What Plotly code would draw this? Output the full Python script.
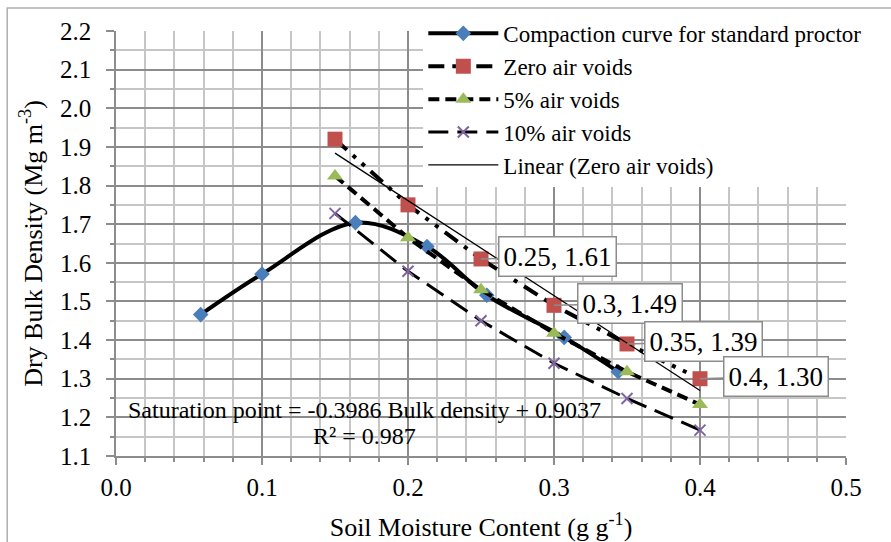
import numpy as np
import plotly.graph_objects as go

# ---- data ----
cc_x = [0.058, 0.100, 0.164, 0.213, 0.254, 0.307, 0.344]
cc_y = [1.466, 1.571, 1.704, 1.642, 1.516, 1.407, 1.318]

moist = [0.15, 0.20, 0.25, 0.30, 0.35, 0.40]
zav_y = [1.92, 1.75, 1.61, 1.49, 1.39, 1.30]
av5_y = [1.825, 1.665, 1.53, 1.418, 1.318, 1.233]
av10_y = [1.728, 1.578, 1.450, 1.340, 1.249, 1.167]

x_ticks = [0.0, 0.1, 0.2, 0.3, 0.4, 0.5]
y_ticks = [1.1, 1.2, 1.3, 1.4, 1.5, 1.6, 1.7, 1.8, 1.9, 2.0, 2.1, 2.2]

labelled_idx = [2, 3, 4, 5]
eq_line1 = "Saturation point = -0.3986 Bulk density + 0.9037"
eq_line2 = "R² = 0.987"

# linear trendline of zero air voids
slope, intercept = np.polyfit(moist, zav_y, 1)
trend_x = [moist[0], moist[-1]]
trend_y = [slope * v + intercept for v in trend_x]

FONT = "Liberation Serif"
MAJ = "#8c8c8c"
MIN = "#c6c6c6"


def f(size):
    return dict(family=FONT, size=size, color="black")


fig = go.Figure()
fig.add_trace(go.Scatter(
    x=cc_x, y=cc_y, mode="lines+markers", name="Compaction curve for standard proctor",
    line=dict(color="black", width=4, shape="spline", smoothing=1.0),
    marker=dict(symbol="diamond", size=12, color="#4a7ebb", line=dict(width=0))))
fig.add_trace(go.Scatter(
    x=moist, y=zav_y, mode="lines+markers", name="Zero air voids",
    line=dict(color="black", width=4, dash="16px,8px,4px,8px,4px,8px"),
    marker=dict(symbol="square", size=15, color="#c0504d", line=dict(width=0))))
fig.add_trace(go.Scatter(
    x=moist, y=av5_y, mode="lines+markers", name="5% air voids",
    line=dict(color="black", width=4, dash="11px,6px"),
    marker=dict(symbol="triangle-up", size=14, color="#9bbb59", line=dict(width=0))))
fig.add_trace(go.Scatter(
    x=moist, y=av10_y, mode="lines+markers", name="10% air voids",
    line=dict(color="black", width=3, dash="20px,9px"),
    marker=dict(symbol="x-thin", size=11, color="#8064a2", line=dict(width=2, color="#8064a2"))))
fig.add_trace(go.Scatter(
    x=trend_x, y=trend_y, mode="lines", name="Linear (Zero air voids)",
    line=dict(color="black", width=1.3)))

annotations = []
for i in labelled_idx:
    annotations.append(dict(
        x=moist[i], y=zav_y[i], xref="x", yref="y",
        text=f"{moist[i]:g}, {zav_y[i]:.2f}",
        showarrow=True, arrowhead=0, arrowcolor="#8c8c8c", arrowwidth=1.5,
        ax=76, ay=-2, standoff=0,
        bgcolor="white", bordercolor="#8c8c8c", borderwidth=1.5, borderpad=4,
        font=f(27)))
annotations.append(dict(
    x=0.170, y=1.218, xref="x", yref="y", text=eq_line1, showarrow=False,
    font=f(24)))
annotations.append(dict(
    x=0.170, y=1.151, xref="x", yref="y", text=eq_line2, showarrow=False,
    font=f(24)))

fig.update_layout(
    width=891, height=542,
    margin=dict(l=116, r=45, t=28, b=86),
    paper_bgcolor="white", plot_bgcolor="white",
    font=f(24),
    showlegend=True,
    legend=dict(x=0.421, y=1.045, xanchor="left", yanchor="top",
                bgcolor="white", borderwidth=0, itemwidth=70,
                font=f(23), tracegroupgap=0),
    annotations=annotations,
    shapes=[
        dict(type="rect", xref="paper", yref="paper",
             x0=-0.149, x1=1.3, y0=-0.5, y1=1.054,
             line=dict(color="#b0b0b0", width=1.5), layer="below"),
        # white box behind legend area
        dict(type="rect", xref="paper", yref="paper",
             x0=(402 - 116) / 730, x1=1.1, y0=(456 - 180) / 428, y1=1.03,
             fillcolor="white", line=dict(width=0), layer="between"),
        # white box behind trendline equation
        dict(type="rect", xref="paper", yref="paper",
             x0=(118 - 116) / 730, x1=(610 - 116) / 730, y0=(456 - 455) / 428, y1=(456 - 395) / 428,
             fillcolor="white", line=dict(width=0), layer="between"),
    ],
)
fig.update_xaxes(
    range=[0, 0.5], tickvals=x_ticks, tickformat=".1f", automargin=False,
    showline=True, linecolor=MAJ, linewidth=1.5,
    ticks="outside", ticklen=7, tickcolor=MAJ, tickwidth=1.5,
    showgrid=True, gridcolor=MAJ, gridwidth=1.5, zeroline=False,
    tickfont=f(25), ticklabelstandoff=1,
    minor=dict(dtick=0.02, showgrid=True, gridcolor=MIN, gridwidth=1.5,
               ticks="outside", ticklen=4, tickcolor=MAJ),
    title=dict(text="Soil Moisture Content (g g<sup>-1</sup>)", font=f(26), standoff=26))
fig.update_yaxes(
    range=[1.1, 2.2], tickvals=y_ticks, tickformat=".1f", automargin=False,
    showline=True, linecolor=MAJ, linewidth=1.5,
    ticks="outside", ticklen=8, tickcolor=MAJ, tickwidth=1.5,
    showgrid=True, gridcolor=MAJ, gridwidth=1.5, zeroline=False,
    tickfont=f(25), ticklabelstandoff=10,
    minor=dict(dtick=0.05, showgrid=True, gridcolor=MIN, gridwidth=1.5,
               ticks="outside", ticklen=4, tickcolor=MAJ),
    title=dict(text="Dry Bulk Density (Mg m<sup>-3</sup>)", font=f(26), standoff=10))

fig.write_html("out.html")
